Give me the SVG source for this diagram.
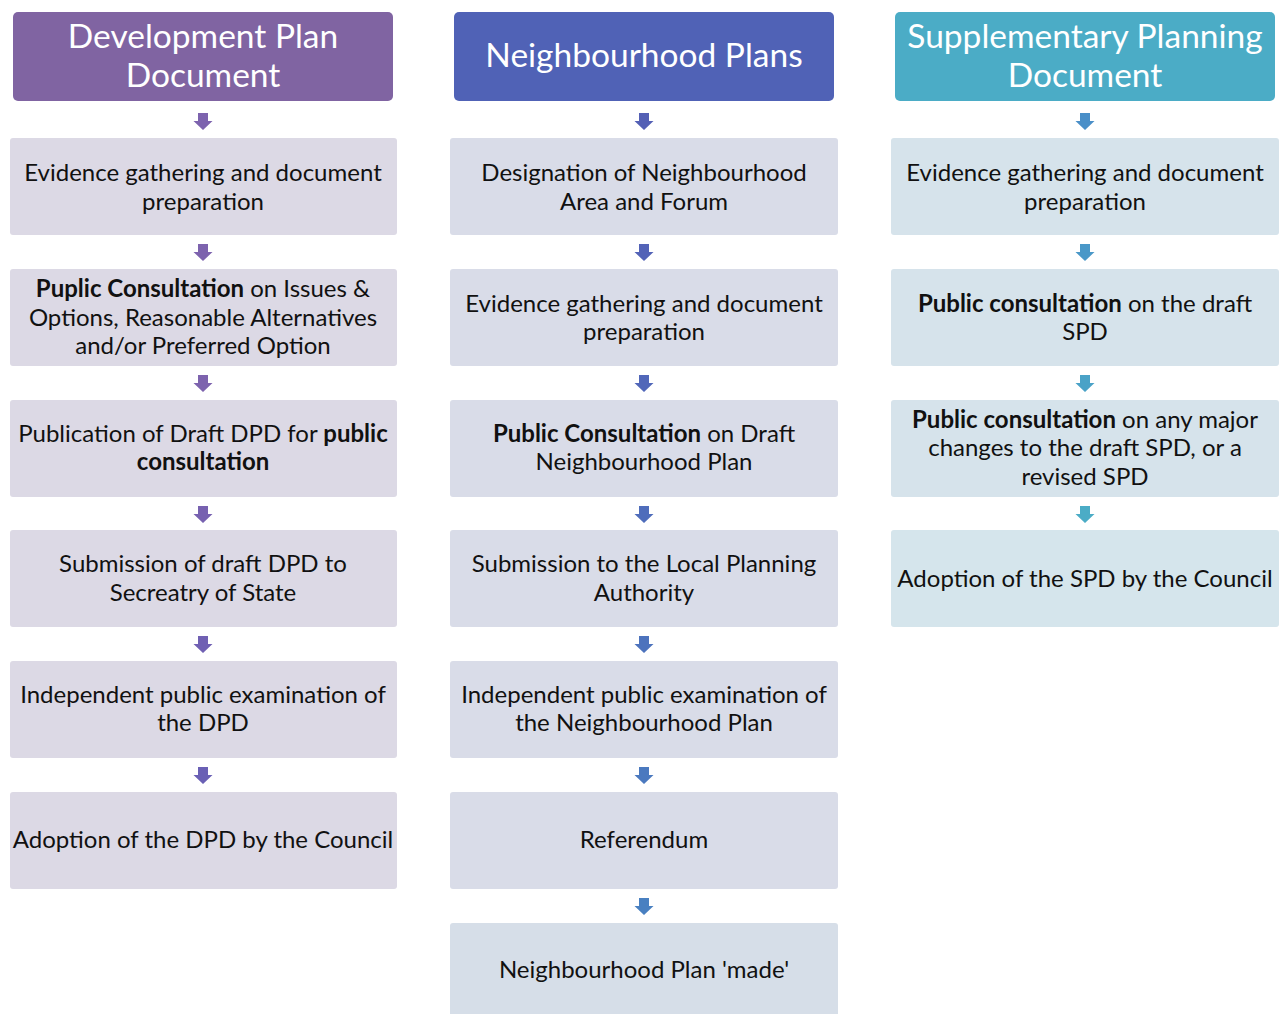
<svg xmlns="http://www.w3.org/2000/svg" width="1283" height="1014" viewBox="0 0 1283 1014">
<style>
.h{font-family:Lato,"Open Sans",sans-serif;font-size:33.5px;fill:#fff;text-anchor:middle}
.t{font-family:Lato,"Open Sans",sans-serif;font-size:24px;fill:#111;text-anchor:middle}
.b{font-weight:bold}
.c1{fill:#DCD9E5}
.c2{fill:#D9DCE8}
.c3{fill:#D6E3EB}
</style>
<defs>
<path id="arr" d="M-5,-8 h10 v8 h4.5 l-9.5,9 l-9.5,-9 h4.5 z"/>
</defs>
<g id="connectors">
<use href="#arr" x="203" y="121" fill="#7D63AE"/>
<use href="#arr" x="203" y="252" fill="#7D63AE"/>
<use href="#arr" x="203" y="383" fill="#7D63AE"/>
<use href="#arr" x="203" y="514" fill="#7761B0"/>
<use href="#arr" x="203" y="644" fill="#7060B3"/>
<use href="#arr" x="203" y="775" fill="#6A60B5"/>
<use href="#arr" x="644" y="121" fill="#5460B5"/>
<use href="#arr" x="644" y="252" fill="#5363B7"/>
<use href="#arr" x="644" y="383" fill="#5167B9"/>
<use href="#arr" x="644" y="514" fill="#4F6DBB"/>
<use href="#arr" x="644" y="644" fill="#4D73BD"/>
<use href="#arr" x="644" y="775" fill="#4B79BF"/>
<use href="#arr" x="644" y="906" fill="#4980C1"/>
<use href="#arr" x="1085" y="121" fill="#4A8FC8"/>
<use href="#arr" x="1085" y="252" fill="#4A98C8"/>
<use href="#arr" x="1085" y="383" fill="#4AA2C7"/>
<use href="#arr" x="1085" y="514" fill="#4BACC6"/>
</g>
<g id="dpd-header"><rect x="13" y="12" width="380" height="89" rx="5" fill="#8064A2"/><text class="h" x="203" y="48">Development Plan</text><text class="h" x="203" y="87">Document</text></g>
<g id="dpd-1"><rect class="c1" x="10" y="138" width="387" height="97" rx="3"/><text class="t" x="203" y="181">Evidence gathering and document</text><text class="t" x="203" y="210">preparation</text></g>
<g id="dpd-2"><rect class="c1" x="10" y="269" width="387" height="97" rx="3"/><text class="t" x="203" y="297"><tspan class="b">Puplic Consultation</tspan> on Issues &amp;</text><text class="t" x="203" y="326">Options, Reasonable Alternatives</text><text class="t" x="203" y="354">and/or Preferred Option</text></g>
<g id="dpd-3"><rect class="c1" x="10" y="400" width="387" height="97" rx="3"/><text class="t" x="203" y="442">Publication of Draft DPD for <tspan class="b">public</tspan></text><text class="t b" x="203" y="470">consultation</text></g>
<g id="dpd-4"><rect class="c1" x="10" y="530" width="387" height="97" rx="3"/><text class="t" x="203" y="572">Submission of draft DPD to</text><text class="t" x="203" y="601">Secreatry of State</text></g>
<g id="dpd-5"><rect class="c1" x="10" y="661" width="387" height="97" rx="3"/><text class="t" x="203" y="703">Independent public examination of</text><text class="t" x="203" y="731">the DPD</text></g>
<g id="dpd-6"><rect class="c1" x="10" y="792" width="387" height="97" rx="3"/><text class="t" x="203" y="848">Adoption of the DPD by the Council</text></g>

<g id="np-header"><rect x="454" y="12" width="380" height="89" rx="5" fill="#5062B6"/><text class="h" x="644" y="67">Neighbourhood Plans</text></g>
<g id="np-1"><rect class="c2" x="450" y="138" width="388" height="97" rx="3"/><text class="t" x="644" y="181">Designation of Neighbourhood</text><text class="t" x="644" y="210">Area and Forum</text></g>
<g id="np-2"><rect class="c2" x="450" y="269" width="388" height="97" rx="3"/><text class="t" x="644" y="312">Evidence gathering and document</text><text class="t" x="644" y="340">preparation</text></g>
<g id="np-3"><rect class="c2" x="450" y="400" width="388" height="97" rx="3"/><text class="t" x="644" y="442"><tspan class="b">Public Consultation</tspan> on Draft</text><text class="t" x="644" y="470">Neighbourhood Plan</text></g>
<g id="np-4"><rect class="c2" x="450" y="530" width="388" height="97" rx="3"/><text class="t" x="644" y="572">Submission to the Local Planning</text><text class="t" x="644" y="601">Authority</text></g>
<g id="np-5"><rect class="c2" x="450" y="661" width="388" height="97" rx="3"/><text class="t" x="644" y="703">Independent public examination of</text><text class="t" x="644" y="731">the Neighbourhood Plan</text></g>
<g id="np-6"><rect class="c2" x="450" y="792" width="388" height="97" rx="3"/><text class="t" x="644" y="848">Referendum</text></g>
<g id="np-7"><rect x="450" y="923" width="388" height="97" rx="3" fill="#D6DEE8"/><text class="t" x="644" y="978">Neighbourhood Plan 'made'</text></g>

<g id="spd-header"><rect x="895" y="12" width="380" height="89" rx="5" fill="#4BACC6"/><text class="h" x="1085" y="48">Supplementary Planning</text><text class="h" x="1085" y="87">Document</text></g>
<g id="spd-1"><rect class="c3" x="891" y="138" width="388" height="97" rx="3"/><text class="t" x="1085" y="181">Evidence gathering and document</text><text class="t" x="1085" y="210">preparation</text></g>
<g id="spd-2"><rect class="c3" x="891" y="269" width="388" height="97" rx="3"/><text class="t" x="1085" y="312"><tspan class="b">Public consultation</tspan> on  the draft</text><text class="t" x="1085" y="340">SPD</text></g>
<g id="spd-3"><rect class="c3" x="891" y="400" width="388" height="97" rx="3"/><text class="t" x="1085" y="428"><tspan class="b">Public consultation</tspan> on any major</text><text class="t" x="1085" y="456">changes to the draft SPD, or a</text><text class="t" x="1085" y="485">revised SPD</text></g>
<g id="spd-4"><rect x="891" y="530" width="388" height="97" rx="3" fill="#D5E5EC"/><text class="t" x="1085" y="587">Adoption of the SPD by the Council</text></g>
</svg>
